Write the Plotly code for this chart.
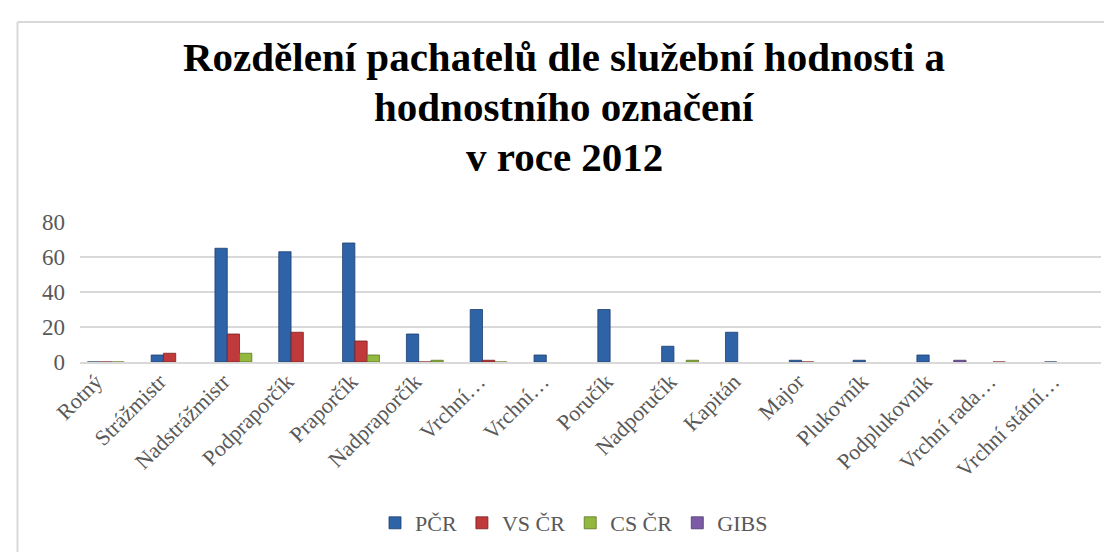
import plotly.graph_objects as go

categories = ["Rotný", "Strážmistr", "Nadstrážmistr", "Podpraporčík", "Praporčík",
              "Nadpraporčík", "Vrchní…", "Vrchní…", "Poručík", "Nadporučík", "Kapitán",
              "Major", "Plukovník", "Podplukovník", "Vrchní rada…", "Vrchní státní…"]
pcr = [0, 4, 65, 63, 68, 16, 30, 4, 30, 9, 17, 1, 1, 4, None, 0]
vs_cr = [0, 5, 16, 17, 12, 0, 1, None, None, None, None, 0, None, None, 0, None]
cs_cr = [0, None, 5, None, 4, 1, 0, None, None, 1, None, None, None, None, None, None]
gibs = [None, None, None, None, None, None, None, None, None, None, None, None, None, 1, None, None]
y_ticks = [0, 20, 40, 60, 80]
title_lines = ["Rozdělení pachatelů dle služební hodnosti a", "hodnostního označení", "v roce 2012"]

series = [("PČR", pcr, "#2f63a8", "#1c3e6e"),
          ("VS ČR", vs_cr, "#c0393b", "#7a1f20"),
          ("CS ČR", cs_cr, "#93b83e", "#5b7523"),
          ("GIBS", gibs, "#7b5ba6", "#4c376a")]

SERIF = "Liberation Serif"

xs = list(range(len(categories)))
fig = go.Figure()
for name, vals, col, edge in series:
    fig.add_trace(go.Bar(x=xs, y=vals, name=name,
                         marker=dict(color=col, line=dict(color=edge, width=0.8))))

W, H = 1112, 552
L, R, T, B = 72, 19, 214, 198
pw, ph = W - L - R, H - T - B

def px2x(px):
    return (px - L) / pw

def py2y(py):
    return (H - B - py) / ph

title_centers = [49, 99, 149]
annotations = [dict(text="<b>%s</b>" % t, xref="paper", yref="paper", x=px2x(556), y=py2y(cy),
                    xanchor="center", yanchor="middle", showarrow=False,
                    font=dict(family=SERIF, size=41, color="black"))
               for t, cy in zip(title_lines, title_centers)]

fig.update_layout(
    width=W, height=H,
    template="none",
    paper_bgcolor="white", plot_bgcolor="white",
    margin=dict(l=L, r=R, t=T, b=B, autoexpand=False),
    barmode="group", bargap=0.23, bargroupgap=0,
    font=dict(family=SERIF, color="#595959", size=20),
    annotations=annotations,
    xaxis=dict(tickvals=xs, ticktext=categories, tickangle=-45, range=[-0.5, len(categories) - 0.5],
               showgrid=False, showline=True, linecolor="#d9d9d9", linewidth=2,
               ticks="", automargin=False, ticklabelstandoff=-4, ticklabelshift=-16,
               tickfont=dict(family=SERIF, size=22, color="#595959"), zeroline=False),
    yaxis=dict(range=[0, 80], tickvals=y_ticks, showgrid=True, gridcolor="#d9d9d9", gridwidth=2,
               zeroline=False, showline=False, ticks="", automargin=False, ticklabelstandoff=14,
               tickfont=dict(family=SERIF, size=23, color="#595959")),
    legend=dict(orientation="h", x=px2x(566), xanchor="center", y=py2y(515), yanchor="middle",
                font=dict(family=SERIF, size=22, color="#595959"), itemwidth=30, traceorder="normal"),
    showlegend=True,
    shapes=[
        dict(type="line", xref="paper", yref="paper", x0=px2x(9.5), x1=px2x(9.5),
             y0=py2y(14), y1=py2y(560), line=dict(color="#d9d9d9", width=2)),
        dict(type="line", xref="paper", yref="paper", x0=px2x(9.5), x1=px2x(1120),
             y0=py2y(14), y1=py2y(14), line=dict(color="#d9d9d9", width=2)),
    ],
)

fig.write_html("out.html")
